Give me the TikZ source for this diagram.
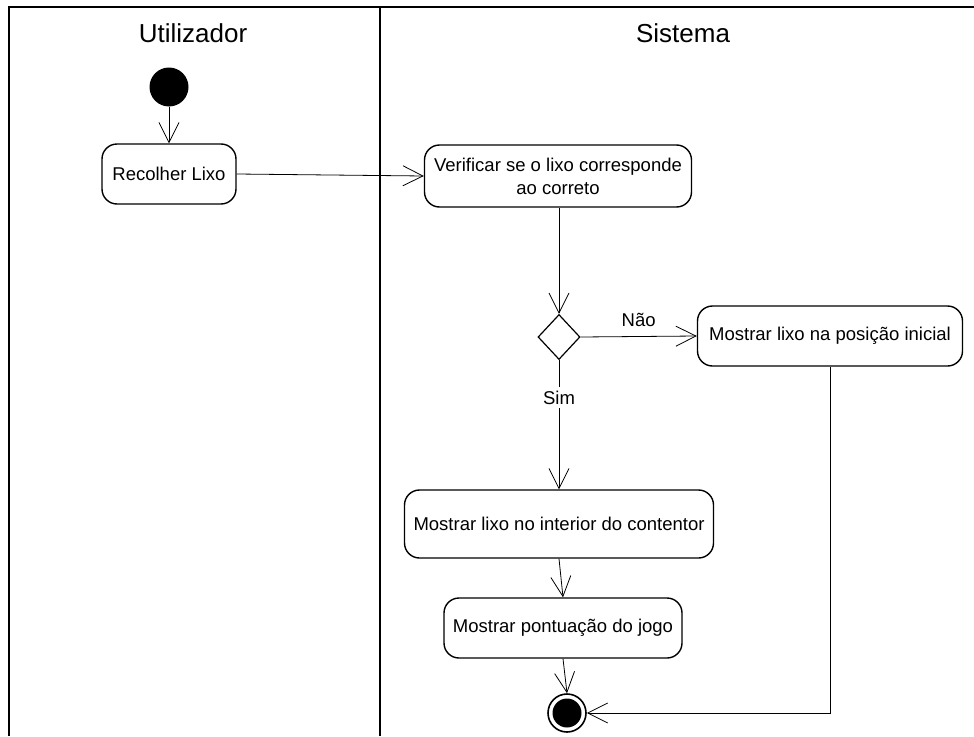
\documentclass[tikz,border=0pt]{standalone}
\usepackage{fontspec}
\setmainfont{Liberation Sans}
\usetikzlibrary{shapes.geometric,arrows.meta}

\begin{document}
\begin{tikzpicture}[x=1pt, y=-1pt,
    atividade/.style={draw, line width=1.4pt, rounded corners=15pt, align=center,
      minimum height=60pt, font=\fontsize{18.5}{23}\selectfont},
    inicio/.style={circle, fill=black, minimum size=39pt, inner sep=0pt},
    fim/.style={circle, draw, line width=1.6pt, minimum size=38pt, inner sep=0pt,
      path picture={\fill (path picture bounding box.center) circle (14.5pt);}},
    decisao/.style={diamond, draw, line width=1.2pt, minimum width=42pt,
      minimum height=45pt, inner sep=0pt},
    fluxo/.style={line width=0.8pt, -{Straight Barb[length=20pt,width=20pt,line width=0.8pt]}},
    raia/.style={font=\fontsize{26}{30}\selectfont},
    rotulo/.style={font=\fontsize{18.5}{23}\selectfont}]
    \useasboundingbox (0,0) rectangle (974,736);
    % raias
    \draw[line width=2pt] (974,7) -- (9,7) -- (9,736);
    \draw[line width=2pt] (380,7) -- (380,736);
    \node[raia] (utilizador) at (193,33) {Utilizador};
    \node[raia] (sistema)    at (683,33) {Sistema};

    \node[inicio] (inicio) at (169,87) {};
    \node[atividade, minimum width=134pt] (recolher) at (169,174) {Recolher Lixo};
    \node[atividade, minimum width=267pt, minimum height=62pt] (verificar) at (558,176)
      {Verificar se o lixo corresponde\\ao correto};
    \node[decisao] (escolha) at (559,337) {};
    \node[atividade, minimum width=265pt] (inicial) at (830,336)
      {Mostrar lixo na posição inicial};
    \node[atividade, minimum width=309pt, minimum height=68pt] (contentor) at (559,524)
      {Mostrar lixo no interior do contentor};
    \node[atividade, minimum width=238pt] (pontuacao) at (563,628)
      {Mostrar pontuação do jogo};
    \node[fim] (final) at (567,713) {};

    \draw[fluxo] (inicio) -- (recolher);
    \draw[fluxo] (recolher.east) -- (verificar.west);
    \draw[fluxo] (verificar.south -| escolha.north) -- (escolha.north);
    \draw[fluxo] (escolha.east) -- node[rotulo, above=6pt] {Não} (inicial.west);
    \draw[fluxo] (escolha.south) -- node[rotulo, pos=0.29, fill=white] {Sim} (contentor.north);
    \draw[fluxo] (contentor.south) -- (pontuacao.north);
    \draw[fluxo] (pontuacao.south) -- (final.north);
    \draw[fluxo] (inicial.south) |- (final.east);
  \end{tikzpicture}
\end{document}
